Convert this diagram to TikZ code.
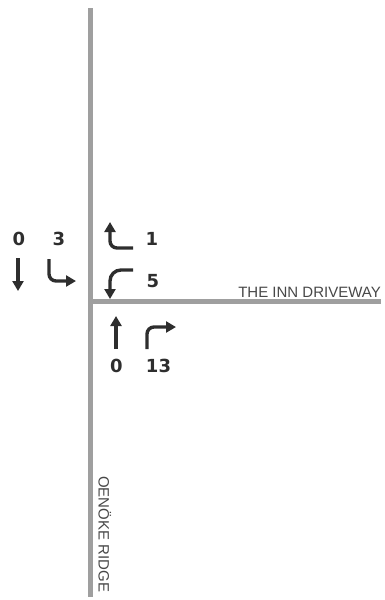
\documentclass[tikz,border=0pt]{standalone}
\usepackage{fontspec}
\setmainfont{Liberation Sans}
\newfontfamily\countfont{DejaVu Sans}
\usepackage{tikz}
\usetikzlibrary{arrows.meta, positioning}
\colorlet{roadcolor}{gray!75}
\colorlet{movecolor}{black!82}

\begin{document}
\begin{tikzpicture}[x=1pt, y=-1pt,
    road/.style={line width=5pt, roadcolor},
    move/.style={line width=3.4pt, movecolor, rounded corners=7pt, -{Triangle[width=11pt, length=10pt]}},
    count/.style={font=\countfont\bfseries\fontsize{18}{18}\selectfont, text=movecolor, inner sep=0pt},
    street/.style={font=\fontsize{15}{15}\selectfont, text=black!72, inner sep=0pt}]

    \useasboundingbox (0, 0) rectangle (385, 600);

    % ===== Roads =====
    \draw[road] (90, 8) -- (90, 597);
    \draw[road] (90, 301) -- (381, 301);

    % Street names
    \node[street, anchor=base east] (driveway) at (381, 297) {THE INN DRIVEWAY};
    \node[street, anchor=base west, rotate=-90] (ridge) at (98.5, 476) {OENÖKE RIDGE};

    % ===== Southbound approach =====
    \node[count] (sbThru) at (19, 238.5) {0};
    \node[count] (sbRight) at (59, 238.5) {3};
    \draw[move] (18, 258) -- (18, 291);
    \draw[move] (49, 259) -- (49, 281) -- (76, 281);

    % ===== Westbound approach (driveway) =====
    \node[count] (wbLeft) at (152, 238.5) {1};
    \node[count] (wbRight) at (153, 281.5) {5};
    \draw[move] (133, 248) -- (110, 248) -- (110, 222);
    \draw[move, rounded corners=11pt] (133, 270) -- (110, 270) -- (110, 299);

    % ===== Northbound approach =====
    \node[count] (nbThru) at (116.5, 365.5) {0};
    \node[count] (nbRight) at (158.5, 365.5) {13};
    \draw[move] (116, 349) -- (116, 316);
    \draw[move] (147, 349) -- (147, 327) -- (176, 327);

\end{tikzpicture}
\end{document}
